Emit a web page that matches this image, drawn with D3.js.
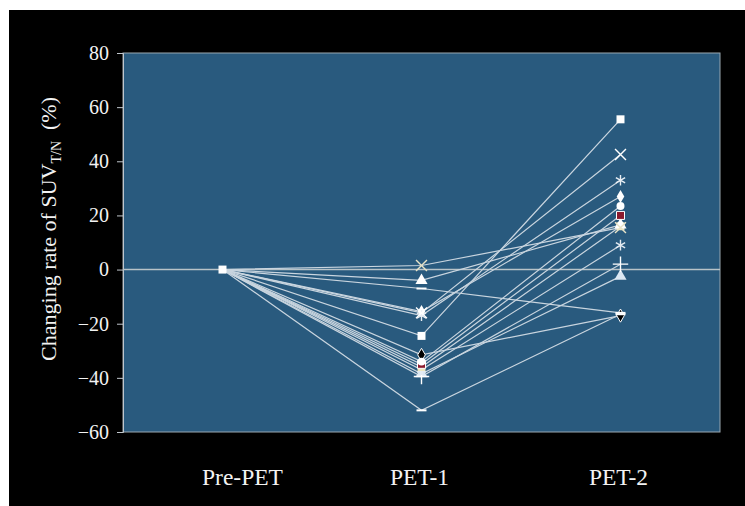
<!DOCTYPE html>
<html>
<head>
<meta charset="utf-8">
<script src="https://d3js.org/d3.v7.min.js"></script>
<style>
  body { margin: 0; background: #fff; }
  text { font-family: "Liberation Serif", "DejaVu Serif", serif; fill: #f2f2f2; }
</style>
</head>
<body>
<div id="chart"></div>
<script>
// stages on the x axis
var stages = ["Pre-PET", "PET-1", "PET-2"];
var yTicks = [-60, -40, -20, 0, 20, 40, 60, 80];

// change rate at each stage, one series per patient
var preVals  = [0, 0, 0, 0, 0, 0, 0, 0, 0, 0, 0, 0, 0, 0, 0];
var pet1Vals = [-24.5, -16, -17, -15.5, -34, -35, 1.5, -4, -36, -37, -39.5, -38.5, -7, -52, -31.5];
var pet2Vals = [55.5, 42.5, 33, 27, 23.5, 20, 15.5, 16.5, 16, 9, 2, -2.5, -16, -16.5, -17];

// marker look per series
var markers = ["square", "x", "asterisk", "diamond", "circle", "square", "x", "triangle",
               "square", "asterisk", "plus", "triangle", "dash", "dash", "diamond"];
var fills   = ["#fff", "#fff", "#e8eef4", "#fff", "#fff", "#8b1a2e", "#e9e4c8", "#fff",
               "#efe8c0", "#e4ebf2", "#fff", "#dce8f3", "#fff", "#fff", "#000"];

var W = 745, H = 506;
var margin = {top: 53, right: 25, bottom: 74, left: 123};
var width = W - margin.left - margin.right,
    height = H - margin.top - margin.bottom;

var svg = d3.select("#chart").append("svg")
    .attr("width", W).attr("height", H);

// black slide background
svg.append("rect").attr("x", 9).attr("y", 10)
  .attr("width", W - 9).attr("height", H - 10).attr("fill", "#000");

var g = svg.append("g")
  .attr("transform", "translate(" + margin.left + "," + margin.top + ")");

var x = d3.scaleBand().domain(stages).range([0, width]);
var y = d3.scaleLinear().domain([-60, 80]).range([height, 0]);

g.append("rect").attr("width", width).attr("height", height)
  .attr("fill", "#295a7e").attr("stroke", "#9aa7b0").attr("stroke-width", 1);

// y axis
var yAxis = g.append("g")
  .call(d3.axisLeft(y).tickValues(yTicks).tickSize(6).tickPadding(8).tickFormat(d3.format("d")));
yAxis.select(".domain").attr("stroke", "#c0c6cc");
yAxis.selectAll(".tick line").attr("stroke", "#c0c6cc");
yAxis.selectAll("text").attr("fill", "#eee").style("font-size", "20px");

// x labels (the first one sits a bit right of its point in the original)
g.selectAll(".xlab").data(stages).enter().append("text")
  .attr("x", function(d) { return x(d) + x.bandwidth() / 2; })
  .attr("dx", function(d, i) { return i === 0 ? 20 : -2; })
  .attr("y", height + 53)
  .attr("text-anchor", "middle")
  .style("font-size", "23.5px")
  .text(function(d) { return d; });

// zero line
g.append("line").attr("x1", 0).attr("x2", width)
  .attr("y1", y(0)).attr("y2", y(0))
  .attr("stroke", "#b8c3c8").attr("stroke-width", 1.5);

var series = preVals.map(function(d, i) {
  return {vals: [preVals[i], pet1Vals[i], pet2Vals[i]], marker: markers[i], fill: fills[i]};
});

var cx = function(j) { return x(stages[j]) + x.bandwidth() / 2; };
var line = d3.line().x(function(d, j) { return cx(j); }).y(function(d) { return y(d); });

g.append("g").selectAll("path").data(series).enter().append("path")
  .attr("d", function(d) { return line(d.vals); })
  .attr("fill", "none").attr("stroke", "#c9d5df").attr("stroke-width", 1.2);

var shapes = {
  square: d3.symbolSquare, diamond: d3.symbolDiamond, circle: d3.symbolCircle,
  triangle: d3.symbolTriangle, x: d3.symbolX, plus: d3.symbolPlus, asterisk: d3.symbolAsterisk
};

function drawMarker(sel, s, px, py) {
  var m = s.marker;
  if (m === "dash") {
    sel.append("line").attr("x1", px - 5).attr("x2", px + 5)
      .attr("y1", py).attr("y2", py).attr("stroke", s.fill).attr("stroke-width", 2);
    return;
  }
  var open = (m === "x" || m === "plus" || m === "asterisk");
  var p = d3.symbol().type(shapes[m])
    .size(open ? 80 : (m === "circle" || m === "diamond" ? 50 : 64));
  sel.append("path").attr("d", p())
    .attr("transform", "translate(" + px + "," + py + ")")
    .attr("fill", open ? "none" : s.fill)
    .attr("stroke", open ? s.fill : (s.fill === "#000" || s.fill === "#8b1a2e" ? "#fff" : "none"))
    .attr("stroke-width", open ? 1.4 : 1);
}

var mg = g.append("g");
series.slice().reverse().forEach(function(s) {
  [1, 2].forEach(function(j) { drawMarker(mg, s, cx(j), y(s.vals[j])); });
});
// pre-PET point is shared by all series; the first one sits on top
drawMarker(mg, series[0], cx(0), y(series[0].vals[0]));

// y label with subscript
var lab = svg.append("text")
  .attr("transform", "translate(56," + (margin.top + y(15)) + ") rotate(-90)")
  .attr("text-anchor", "middle")
  .style("font-size", "22px")
  .attr("xml:space", "preserve");
lab.append("tspan").text("Changing rate of SUV");
lab.append("tspan").attr("dy", 5).style("font-size", "14px").text("T/N");
lab.append("tspan").attr("dy", -5).text("\u00a0 (%)");
</script>
</body>
</html>
